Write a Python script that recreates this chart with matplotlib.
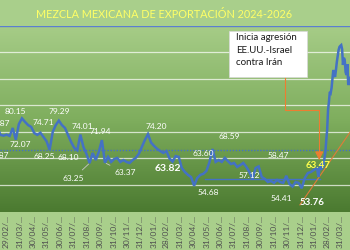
import pandas as pd
import numpy as np
import matplotlib
matplotlib.use('Agg')
import matplotlib.pyplot as plt
import matplotlib.dates as mdates
from matplotlib.colors import LinearSegmentedColormap
from matplotlib.patches import Rectangle

plt.rcParams['font.family'] = ['Lato', 'DejaVu Sans']

# precios semanales (USD/barril)
fechas_sem = pd.date_range('2024-02-02', periods=106, freq='W-FRI')
precios_sem = [67.87, 76.87, 73.9, 73.6, 74.0, 73.5, 76.5, 72.07, 78.0, 80.15,
               78.8, 77.6, 76.9, 74.6, 73.9, 74.71, 73.1, 71.5, 68.25, 75.0,
               77.6, 79.29, 77.6, 76.5, 73.9, 71.2, 69.0, 68.10, 74.01, 69.3,
               66.7, 63.25, 67.1, 64.4, 67.5, 71.94, 63.37, 65.6, 63.7, 64.8,
               65.2, 63.7, 64.4, 63.7, 63.3, 64.4, 65.2, 66.7, 69.3, 72.0,
               74.20, 71.0, 69.7, 68.6, 67.8, 67.1, 67.8, 65.0, 63.82, 65.9,
               65.6, 61.4, 59.9, 58.8, 58.0, 54.68, 57.6, 58.8, 59.2, 60.3,
               63.60, 68.59, 63.7, 64.4, 63.7, 65.2, 64.0, 62.9, 63.3, 61.8,
               62.5, 63.3, 61.8, 59.9, 57.12, 61.4, 62.0, 58.0, 57.3, 56.1,
               56.5, 55.8, 56.9, 56.1, 55.8, 58.47, 55.4, 54.41, 56.1, 55.8,
               53.76, 57.6, 59.5, 59.9, 60.7, 61.4]

# ultimas semanas, cada dos dias
fechas_dia = pd.date_range('2026-02-09', periods=38, freq='2D')
precios_dia = [58.0, 60.7, 61.8, 60.7, 63.47, 61.4, 63.0, 65.2, 67.5, 72.0,
               75.8, 83.3, 86.3, 90.1, 89.7, 91.6, 95.0, 98.4, 96.5, 95.8,
               98.4, 101.4, 103.7, 105.9, 107.1, 107.5, 107.8, 106.3, 100.3, 103.0,
               102.2, 97.6, 96.5, 100.6, 92.7, 94.6, 95.8, 93.1]

fechas = fechas_sem.append(fechas_dia)
precios = precios_sem + precios_dia

# posicion en la serie, desplazamiento (px) y estilo de la etiqueta
etiquetas = [(0, 4, -5, 'n'), (1, 2, 4, 'n'), (9, -7, 7, 'n'), (7, 4, -5, 'n'),
             (15, 3, 10, 'n'), (18, -5, -7, 'n'), (21, 0, 9, 'n'), (27, -9, -7, 'n'),
             (28, 2, 8, 'n'), (31, -16, -15, 'l'), (35, -2, 9, 'n'), (36, 20, -10, 'l'),
             (50, 8, 8, 'n'), (58, -5, -7, 'b'), (65, 14, -7, 'n'), (70, -6, 9, 'n'),
             (71, 17, 12, 'n'), (84, -3, 4, 'n'), (95, -8, 20, 'n'), (97, -11, -12, 'n'),
             (100, 10, -14, 'g'), (110, -4, -3, 'y')]

promedio = 68.2
soporte = 57.12
soporte_fechas = ['2025-05-27', '2026-02-12']
tendencia_fechas = ['2025-12-29', '2026-04-27']
tendencia_valores = [47.5, 76.1]
conector_fechas = ['2025-11-25', '2025-11-25', '2026-02-11', '2026-02-11']
conector_valores = [95.8, 83.3, 83.3, 66.0]
flecha_valor = 64.4
meses = pd.date_range('2024-02-29', '2026-03-31', freq='ME')
meses_txt = [d.strftime('%d/%m/') + '...' for d in meses]
titulo = 'MEZCLA MEXICANA DE EXPORTACIÓN 2024-2026'
nota = 'Inicia agresión\nEE.UU.-Israel\ncontra Irán'

fig = plt.figure(figsize=(3.5, 2.5), dpi=100)
fig.patch.set_facecolor('#a9cf8b')
ax = fig.add_axes([0, 38 / 250, 1, 186 / 250])

verde = LinearSegmentedColormap.from_list('verde', ['#4b7a30', '#7fae5e', '#a6cc87'])
grad = np.linspace(0, 1, 256).reshape(-1, 1)
ax.imshow(grad, extent=[0, 1, 0, 1], transform=ax.transAxes, cmap=verde,
          origin='lower', aspect='auto', zorder=0)

x = mdates.date2num(fechas)
ax.plot(x, precios, color='#4472c4', lw=1.8, zorder=4, solid_joinstyle='miter')
ax.axhline(promedio, color='#4472c4', lw=1, ls=(0, (1, 1.2)), zorder=3)
ax.axhline(115, color='#5b7fd0', lw=1, zorder=3)
ax.plot(mdates.date2num(pd.to_datetime(soporte_fechas)), [soporte, soporte],
        color='#4472c4', lw=1, zorder=3)
ax.plot(mdates.date2num(pd.to_datetime(tendencia_fechas)), tendencia_valores,
        color='#e07b39', lw=0.8, zorder=3)

# nota con conector
cx = mdates.date2num(pd.to_datetime(conector_fechas))
ax.plot(cx, conector_valores, color='#ed7d31', lw=0.8, zorder=5)
ax.annotate('', xy=(cx[-1], flecha_valor), xytext=(cx[-1], conector_valores[-1]),
            arrowprops=dict(arrowstyle='-|>,head_length=0.5,head_width=0.25',
                            color='#ed7d31', lw=0.8, shrinkA=0, shrinkB=0), zorder=5)
bx0, bx1 = mdates.date2num(pd.to_datetime(['2025-07-21', '2026-01-14']))
ax.add_patch(Rectangle((bx0, 95.8), bx1 - bx0, 17.3, facecolor='white',
                       edgecolor='#d9d9d9', lw=0.5, zorder=6))
ax.text(mdates.date2num(pd.Timestamp('2025-08-06')), 112.2, nota, fontsize=7,
        color='#1a1a1a', va='top', ha='left', linespacing=1.45, zorder=7)

estilos = {'n': dict(fontsize=6, color='white'),
           'l': dict(fontsize=6, color='white'),
           'b': dict(fontsize=7.5, color='white', fontweight='bold'),
           'g': dict(fontsize=7, color='white', fontweight='bold'),
           'y': dict(fontsize=7, color='#ffff4d', fontweight='bold')}
for i, dx, dy, tipo in etiquetas:
    flecha = None
    if tipo == 'l':
        flecha = dict(arrowstyle='-', color='#c8c8c8', lw=0.6, shrinkA=2, shrinkB=1)
    ax.annotate(f'{precios[i]:.2f}', xy=(x[i], precios[i]), xytext=(dx, dy),
                textcoords='offset pixels', ha='center', va='center',
                arrowprops=flecha, zorder=8, annotation_clip=False, **estilos[tipo])

ax.set_xlim(mdates.date2num(pd.Timestamp('2024-02-15')),
            mdates.date2num(pd.Timestamp('2026-04-22')))
ax.set_ylim(44.8, 115)
ax.set_yticks(range(55, 115, 10))
ax.yaxis.grid(True, color='white', alpha=0.7, lw=0.9)
ax.set_axisbelow(False)
for ln in ax.get_ygridlines():
    ln.set_zorder(1)
ax.tick_params(axis='y', length=0, labelleft=False)
ax.set_xticks(mdates.date2num(meses))
ax.set_xticklabels(meses_txt, rotation=90, fontsize=6, color='#505050')
ax.tick_params(axis='x', length=0, pad=2)
for s in ax.spines.values():
    s.set_visible(False)

fig.text(164 / 350, 1 - 15 / 250, titulo, color='#ffff66', fontsize=7.8,
         ha='center', va='center')

fig.savefig('out.png', dpi=100)
